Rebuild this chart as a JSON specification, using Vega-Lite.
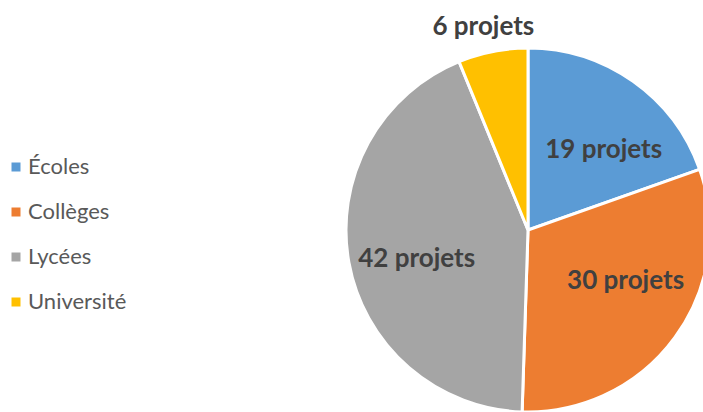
{
  "$schema": "https://vega.github.io/schema/vega-lite/v6.json",
  "width": 1056,
  "height": 460,
  "padding": 0,
  "autosize": "none",
  "background": "white",
  "data": {
    "values": [
      {"niveau": "Écoles", "projets": 19, "rang": 1, "libelle": "19 projets"},
      {"niveau": "Collèges", "projets": 30, "rang": 2, "libelle": "30 projets"},
      {"niveau": "Lycées", "projets": 42, "rang": 3, "libelle": "42 projets"},
      {"niveau": "Université", "projets": 6, "rang": 4, "libelle": "6 projets"}
    ]
  },
  "encoding": {
    "theta": {"field": "projets", "type": "quantitative", "stack": true},
    "order": {"field": "rang", "type": "quantitative"}
  },
  "layer": [
    {
      "mark": {"type": "arc", "outerRadius": 182, "stroke": "white", "strokeWidth": 3},
      "encoding": {
        "color": {
          "field": "niveau",
          "type": "nominal",
          "scale": {
            "domain": ["Écoles", "Collèges", "Lycées", "Université"],
            "range": ["#5B9BD5", "#ED7D31", "#A5A5A5", "#FFC000"]
          },
          "legend": {
            "title": null,
            "orient": "none",
            "legendX": 5,
            "legendY": 156,
            "symbolType": "square",
            "symbolSize": 81,
            "symbolStrokeWidth": 0,
            "labelFont": "Lato",
            "labelFontSize": 22,
            "labelColor": "#595959",
            "labelOffset": 1,
            "rowPadding": 23
          }
        }
      }
    },
    {
      "mark": {"type": "text", "radius": 110, "thetaOffset": 0.144, "font": "Lato", "fontSize": 26, "fontWeight": "bold", "color": "#404040"},
      "encoding": {
        "text": {"condition": {"test": "datum.rang !== 1", "value": ""}, "field": "libelle", "type": "nominal"}
      }
    },
    {
      "mark": {"type": "text", "radius": 110, "thetaOffset": -0.152, "font": "Lato", "fontSize": 26, "fontWeight": "bold", "color": "#404040"},
      "encoding": {
        "text": {"condition": {"test": "datum.rang !== 2", "value": ""}, "field": "libelle", "type": "nominal"}
      }
    },
    {
      "mark": {"type": "text", "radius": 115, "thetaOffset": -0.077, "font": "Lato", "fontSize": 26, "fontWeight": "bold", "color": "#404040"},
      "encoding": {
        "text": {"condition": {"test": "datum.rang !== 3", "value": ""}, "field": "libelle", "type": "nominal"}
      }
    },
    {
      "mark": {"type": "text", "radius": 208, "thetaOffset": -0.022, "font": "Lato", "fontSize": 26, "fontWeight": "bold", "color": "#404040"},
      "encoding": {
        "text": {"condition": {"test": "datum.rang !== 4", "value": ""}, "field": "libelle", "type": "nominal"}
      }
    }
  ]
}
